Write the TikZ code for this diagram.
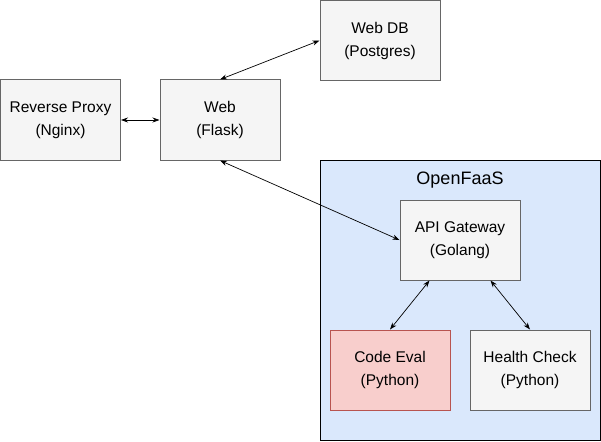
\documentclass[tikz,border=0pt]{standalone}
\usepackage{fontspec}
\setmainfont{Liberation Sans}
\usetikzlibrary{arrows.meta}

\definecolor{boxfill}{HTML}{F5F5F5}
\definecolor{boxline}{HTML}{666666}
\definecolor{evalfill}{HTML}{F8CECC}
\definecolor{evalline}{HTML}{B85450}
\definecolor{faasfill}{HTML}{DAE8FC}

\tikzset{
  service/.style={draw=boxline, fill=boxfill, line width=1pt, minimum width=120pt,
    minimum height=80pt, inner sep=0pt, align=center,
    font=\fontsize{15.5}{23}\selectfont},
  link/.style={{Stealth[length=7pt,width=5pt]}-{Stealth[length=7pt,width=5pt]}, line width=0.7pt}
}

\begin{document}
\begin{tikzpicture}[x=1pt,y=-1pt]
\useasboundingbox (0,0) rectangle (601,441);

\node[draw, fill=faasfill, line width=1pt, minimum width=280pt, minimum height=280pt, inner sep=0pt] (faas) at (460,300) {};
\node[font=\fontsize{18}{22}\selectfont] (faaslabel) at (460,180) {OpenFaaS};

\node[service] (proxy) at (60.5,120) {Reverse Proxy\\(Nginx)};
\node[service] (web) at (220,120) {Web\\(Flask)};
\node[service] (db) at (380,40.5) {Web DB\\(Postgres)};
\node[service] (api) at (460,240) {API Gateway\\(Golang)};
\node[service, draw=evalline, fill=evalfill] (eval) at (390,370) {Code Eval\\(Python)};
\node[service] (health) at (530,370) {Health Check\\(Python)};

\draw[link] (proxy) -- (web);
\draw[link] (web.north) -- (db.west);
\draw[link] (web.south) -- (api.west);
\draw[link] ([xshift=30pt]api.south west) -- (eval.north);
\draw[link] ([xshift=-30pt]api.south east) -- (health.north);

\end{tikzpicture}
\end{document}
